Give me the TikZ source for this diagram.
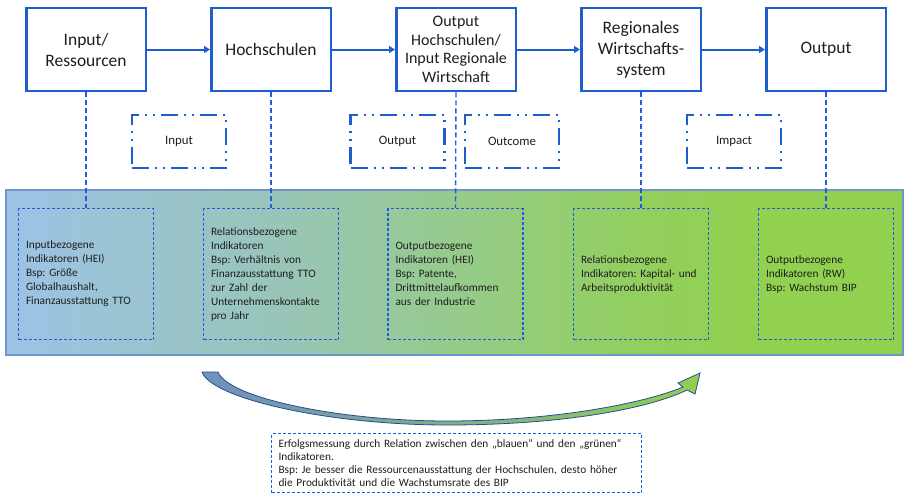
\documentclass[tikz,border=0pt]{standalone}
\usepackage{fontspec}
\setmainfont{Carlito}
\usetikzlibrary{arrows.meta}
\frenchspacing
\definecolor{bblue}{RGB}{30,95,205}
\definecolor{dblue}{RGB}{35,90,225}
\definecolor{txt}{RGB}{30,30,30}
\definecolor{bandborder}{RGB}{110,150,200}
\definecolor{cA}{RGB}{157,195,230}
\definecolor{cB}{RGB}{152,197,185}
\definecolor{cC}{RGB}{150,203,140}
\definecolor{cD}{RGB}{146,207,95}
\definecolor{cE}{RGB}{146,208,80}
\definecolor{arrblue}{RGB}{110,145,188}
\definecolor{arrline}{RGB}{40,75,150}
\pgfdeclarehorizontalshading{bandshade}{100bp}{color(0bp)=(cA); color(25bp)=(cA); color(40bp)=(cB); color(50bp)=(cC); color(60bp)=(cD); color(66bp)=(cE); color(100bp)=(cE)}
\tikzset{
  topbox/.style={draw=bblue, line width=2.5pt, fill=white, minimum width=119.5pt, minimum height=83pt, align=center, font=\fontsize{17.5}{21}\selectfont, text=txt, inner sep=2pt},
  flow/.style={draw=bblue, line width=2pt, -{Triangle[length=6pt,width=7pt]}},
  vdash/.style={draw=dblue, line width=1.4pt, dash pattern=on 5pt off 3pt},
  indbox/.style={draw=dblue, line width=1.5pt, dash pattern=on 3pt off 2pt, minimum width=135pt, minimum height=131pt, text width=120pt, align=left, font=\fontsize{11.3}{14}\selectfont, text=txt},
  phasebox/.style={draw=bblue, line width=2.5pt, dash pattern=on 17pt off 6pt on 2pt off 6pt on 2pt off 6pt, minimum width=94pt, minimum height=53pt, font=\fontsize{12.8}{15}\selectfont, text=txt},
  notebox/.style={draw=dblue, line width=1.5pt, dash pattern=on 3pt off 2pt, minimum width=370pt, minimum height=59pt, text width=356pt, align=left, font=\fontsize{11.3}{13}\selectfont, text=txt},
  arrowfill/.style={left color=arrblue, right color=cE, draw=arrline, line width=0.8pt},
}
\begin{document}
\begin{tikzpicture}[x=1pt,y=-1pt]
\useasboundingbox (0,0) rectangle (904,496);
% band
\shadedraw[shading=bandshade, draw=bandborder, line width=1.2pt] (6,190) rectangle (903,355);
% top boxes
\node[topbox] (b1) at (86,49.5) {Input/\\Ressourcen};
\node[topbox] (b2) at (271,49.5) {Hochschulen};
\node[topbox, font=\fontsize{16}{18.7}\selectfont] (b3) at (456,49.5) {Output\\Hochschulen/\\Input Regionale\\Wirtschaft};
\node[topbox] (b4) at (641,49.5) {Regionales\\Wirtschafts-\\system};
\node[topbox] (b5) at (826,49.5) {Output};
\draw[flow] (b1) -- (b2);
\draw[flow] (b2) -- (b3);
\draw[flow] (b3) -- (b4);
\draw[flow] (b4) -- (b5);
% phase boxes
\node[phasebox] (p1) at (179,141.5) {Input};
\node[phasebox] (p2) at (397.5,141.5) {Output};
\node[phasebox] (p3) at (512,141.5) {Outcome};
\node[phasebox] (p4) at (734,141.5) {Impact};
% indicator boxes
\node[indbox] (i1) at (86,274) {Inputbezogene\\Indikatoren (HEI)\\Bsp: Größe\\Globalhaushalt,\\Finanzausstattung TTO};
\node[indbox] (i2) at (271,274) {Relationsbezogene\\Indikatoren\\Bsp: Verhältnis von\\Finanzausstattung TTO\\zur Zahl der\\Unternehmenskontakte\\pro Jahr};
\node[indbox] (i3) at (455.5,274) {Outputbezogene\\Indikatoren (HEI)\\Bsp: Patente,\\Drittmittelaufkommen\\aus der Industrie};
\node[indbox] (i4) at (641,274) {Relationsbezogene\\Indikatoren: Kapital- und\\Arbeitsproduktivität};
\node[indbox] (i5) at (826,274) {Outputbezogene\\Indikatoren (RW)\\Bsp: Wachstum BIP};
\draw[vdash] (b1.south) -- (i1.north);
\draw[vdash] (b2.south) -- (i2.north);
\draw[vdash] (b3.south) -- (i3.north);
\draw[vdash] (b4.south) -- (i4.north);
\draw[vdash] (b5.south) -- (i5.north);
% curved arrow
\path[arrowfill] (202,372) .. controls (212,399) and (330,425) .. (447,425)
  .. controls (565,425) and (650,408) .. (687,390) -- (695,394) -- (700,373) -- (678,383) -- (683,387)
  .. controls (645,403) and (555,421) .. (447,421)
  .. controls (340,421) and (228,398) .. (218,372) -- cycle;
% note
\node[notebox] (n) at (456.5,463) {Erfolgsmessung durch Relation zwischen den „blauen“ und den „grünen“\\Indikatoren.\\Bsp: Je besser die Ressourcenausstattung der Hochschulen, desto höher\\die Produktivität und die Wachstumsrate des BIP};
\end{tikzpicture}
\end{document}
